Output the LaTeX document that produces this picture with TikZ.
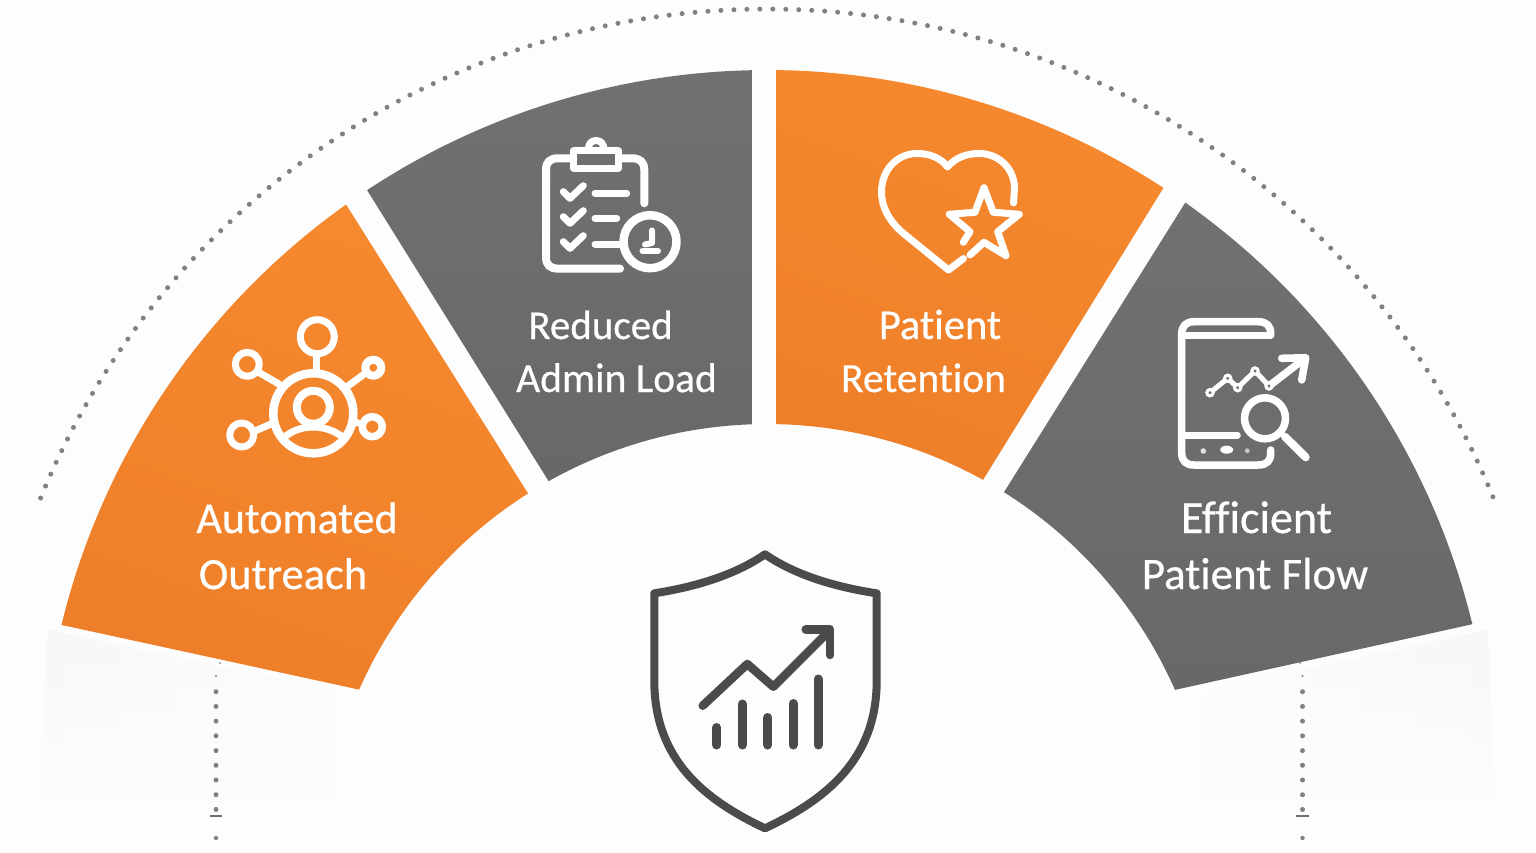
\documentclass[tikz,border=0pt]{standalone}
\usepackage{fontspec}
\setmainfont{Carlito}[Ligatures=NoCommon,FakeBold=0.5]
\usepackage{tikz}
\usetikzlibrary{fadings}
\definecolor{pagewhite}{HTML}{FDFDFD}
\definecolor{ghostgray}{HTML}{F7F7F9}
\definecolor{brandorange}{HTML}{F6892E}
\definecolor{deeporange}{HTML}{EE7F2A}
\definecolor{brandgray}{HTML}{717174}
\definecolor{deepgray}{HTML}{68686A}
\definecolor{dotgray}{HTML}{808087}
\definecolor{shieldgray}{HTML}{4B4B4D}
\tikzset{
	orangeseg/.style={top color=brandorange, bottom color=deeporange, shading angle=-20},
	grayseg/.style={top color=brandgray, bottom color=deepgray},
	seglabel/.style={text=white, inner sep=0pt, anchor=base, font=\fontsize{#1}{#1}\selectfont},
	iconline/.style={draw=white, line cap=round, line join=round, line width=#1},
	shieldline/.style={draw=shieldgray, line cap=round, line join=round, line width=#1},
	dotmark/.style={fill=dotgray},
}

\begin{document}
\begin{tikzpicture}[x=1pt,y=-1pt]
\useasboundingbox (0,0) rectangle (1536,853);
\fill[pagewhite] (0,0) rectangle (1536,853);

% faint bands under the outer segments
\shade[left color=ghostgray, right color=pagewhite, path fading=south] (48,630) -- (360,696) -- (360,800) -- (38,800) -- cycle;
\shade[right color=ghostgray, left color=pagewhite, path fading=south] (1488,630) -- (1178,696) -- (1178,800) -- (1495,800) -- cycle;

% the four segments
\foreach \oa/\ob/\ia/\ib/\sty in {166.37/125.44/122.4/156.14/orangeseg,
		123.43/91.19/91.93/119.32/grayseg,
		89.29/56.9/61.02/88.84/orangeseg,
		54.82/13.69/23.82/57.9/grayseg}
	\shade[\sty] plot[domain=\oa:\ob,samples=50,variable=\t] ({767+726*cos(\t)},{796-726*sin(\t)})
		-- plot[domain=\ia:\ib,samples=50,variable=\t] ({767+446*cos(\t)},{870-446*sin(\t)}) -- cycle;

% dotted arc
\foreach \i in {0,...,143} {
	\pgfmathsetmacro\ang{22.2+\i*0.94895}
	\fill[dotmark] ({767+784*cos(\ang)},{793-784*sin(\ang)}) circle (2.5pt);
}

% dotted drops
\foreach \xd/\xa in {216/220,1302.5/1300} {
	\fill[dotmark] (\xa,663) circle (1pt);
	\fill[dotmark] (\xd,676) circle (1.2pt);
	\foreach \i in {0,...,8}
		\fill[dotmark] (\xd,{691.7+\i*14.72}) circle (2.5pt);
	\draw[shieldgray!80!white,line width=2pt] (\xd-6.3,816) -- (\xd+6.3,816);
	\fill[dotmark] (\xd,838) circle (2.2pt);
}

% network icon
\draw[iconline=8.5pt] (313.3,413.3) circle (40);
\draw[iconline=7pt] (317.3,336.7) circle (17);
\draw[iconline=7pt] (316,355) -- (316,371);
\draw[iconline=7pt] (247.3,364.3) circle (12);
\draw[iconline=7pt] (258,372) -- (279,384);
\draw[iconline=8pt] (373.3,367.7) circle (8);
\draw[iconline=7pt] (363,375) -- (348,386);
\draw[iconline=7pt] (241.7,435) circle (12);
\draw[iconline=7pt] (255,431) -- (271,424);
\draw[iconline=7.5pt] (372.3,426.7) circle (10);
\draw[iconline=7pt] (358,423) -- (352,421);
\draw[iconline=8pt] (313.3,407.3) circle (16.5);
\draw[iconline=7pt] (283,438) .. controls (293,430) and (303,427) .. (313,427) .. controls (323,427) and (334,430) .. (344,438);

% clipboard icon
\draw[iconline=8pt] (644.3,203.3) -- (644.3,170) .. controls (644.3,162) and (640,158.3) .. (632,158.3) -- (620,158.3);
\draw[iconline=8pt] (573.3,158.3) -- (558,158.3) .. controls (550,158.3) and (546,162) .. (546,170) -- (546,257) .. controls (546,265) and (550,268.6) .. (558,268.6) -- (620,268.6);
\draw[iconline=7pt] (573.7,151) rectangle (618.3,168.3);
\draw[iconline=7pt] (588.3,150) .. controls (588.3,144) and (591,140.5) .. (596,140.5) .. controls (601,140.5) and (604,144) .. (604,150);
\foreach \dy in {0,25,50}
	\draw[iconline=7pt] (563.3,191.7+\dy) -- (570,198.3+\dy) -- (583.3,185.7+\dy);
\draw[iconline=7pt] (595,193.3) -- (626.7,193.3);
\draw[iconline=7pt] (595,218.3) -- (616.7,218.3);
\draw[iconline=7pt] (595,244) -- (620,244);
\draw[iconline=8.5pt] (650,241.7) circle (26.5);
\draw[iconline=6pt] (652,230.5) -- (652,243) -- (645,244.5);
\draw[iconline=6pt] (642.5,251) -- (658,251);

% heart icon
\draw[iconline=7pt] (963.5,258.5) -- (948.5,270) -- (903,233) .. controls (890,222) and (881.5,208) .. (881.5,192)
	.. controls (881.5,170) and (897,153.5) .. (917,153.5) .. controls (930,153.5) and (941,158) .. (947.5,167)
	.. controls (955,158) and (966,153.5) .. (979,153.5) .. controls (1000,153.5) and (1014.5,170) .. (1014.5,188) -- (1013.5,203);
\draw[iconline=7pt] (970,255) -- (984,242.3) -- (1006,255.7) -- (997.7,231.7) -- (1019.3,214.3) -- (993.3,212.3) -- (984,187.7)
	-- (975,212.3) -- (949.3,214.3) -- (970,231.7) -- (963.3,242.3);

% phone icon
\draw[iconline=7.5pt] (1270.7,335) -- (1270.7,334) .. controls (1270.7,326) and (1267,321.7) .. (1258,321.7) -- (1194,321.7)
	.. controls (1186,321.7) and (1181.7,326) .. (1181.7,334) -- (1181.7,453) .. controls (1181.7,461) and (1186,465) .. (1194,465)
	-- (1258,465) .. controls (1267,465) and (1270.7,461) .. (1270.7,453) -- (1270.7,450);
\draw[iconline=7pt] (1181.7,335) -- (1270.7,335);
\draw[iconline=7pt] (1181.7,435) -- (1237.3,435);
\fill[white!75!gray] (1203.3,451) circle (2.8pt);
\fill[white] (1226.7,449.7) ellipse (6.5pt and 4pt);
\fill[white!55!gray] (1247.3,450.7) circle (2.4pt);
\draw[iconline=5pt] (1210,392.7) -- (1227.7,378.3) -- (1237.7,387.7) -- (1255,371) -- (1269,386);
\draw[iconline=7.5pt] (1269,386) -- (1304,359);
\draw[iconline=7.5pt] (1281.7,358.3) -- (1305.7,357.7) -- (1301.7,380);
\foreach \px/\py in {1210/392.7,1227.7/378.3,1237.7/387.7,1255/371,1269/386}
	\draw[white,fill=brandgray,line width=3pt] (\px,\py) circle (3.2pt);
\draw[iconline=7.5pt] (1265,418.3) circle (20.5);
\draw[iconline=8pt] (1285,436.7) -- (1305.7,457.3);

% segment texts
\node[seglabel=44] (automated) at (297,533) {Automated};
\node[seglabel=44.5] (outreach) at (283,589) {Outreach};
\node[seglabel=41] (reduced) at (600.5,339) {Reduced};
\node[seglabel=41.5] (adminload) at (616.5,392) {Admin Load};
\node[seglabel=42.5] (patient) at (940,339) {Patient};
\node[seglabel=41.5] (retention) at (923.5,392) {Retention};
\node[seglabel=46] (efficient) at (1256.5,533) {Efficient};
\node[seglabel=45] (patientflow) at (1255,589) {Patient Flow};

% shield
\draw[shieldline=8pt] (765,554.3) .. controls (735,575) and (695,587) .. (654.3,593.3) -- (654.3,680)
	.. controls (654,760) and (705,800) .. (765,828.3) .. controls (825,800) and (877,760) .. (876.7,680) -- (876.7,593.3)
	.. controls (835,587) and (795,575) .. (765,554.3) -- cycle;
\draw[shieldline=8.5pt] (702.7,705.7) -- (747.3,664) -- (773.3,686.7) -- (829,631);
\draw[shieldline=8.5pt] (805.7,629.3) -- (830,629.3) -- (830,655);
\foreach \bx/\by in {716.7/727.5,742.3/704,767.7/717.5,793/703.5,818/679}
	\draw[shieldline=9pt] (\bx,\by) -- (\bx,745);
\end{tikzpicture}
\end{document}
